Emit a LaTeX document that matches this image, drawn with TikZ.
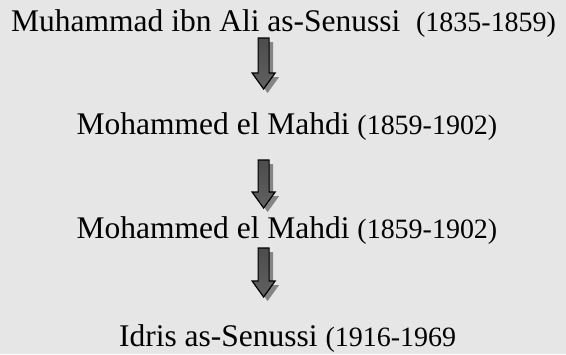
\documentclass[tikz,border=0pt]{standalone}
\usepackage{fontspec}
\setmainfont{Liberation Serif}
\usepackage{xcolor}
\usepackage{tikz}
\usetikzlibrary{calc}

\definecolor{pagebg}{RGB}{230,230,230}
\newcommand{\namefont}{\fontsize{22.4}{26}\selectfont}
\newcommand{\yearfont}{\fontsize{19.9}{24}\selectfont}
% down block arrow from #1 (top) to #2 (tip), offset #3
\newcommand{\blockpath}[3]{($(#1)+(#3)+(-0.1375,0)$) -- ($(#1)+(#3)+(0.1375,0)$)
  -- ($(#2)+(#3)+(0.1375,0.4)$) -- ($(#2)+(#3)+(0.2875,0.4)$) -- ($(#2)+(#3)$)
  -- ($(#2)+(#3)+(-0.2875,0.4)$) -- ($(#2)+(#3)+(-0.1375,0.4)$) -- cycle}

\begin{document}
\begin{tikzpicture}[
    every node/.style={inner sep=0pt, anchor=base},
    arrbody/.style={draw=black, line width=0.85pt, line join=miter,
      top color=black!70, middle color=black, bottom color=black!62},
    arrshadow/.style={fill=black!48}]
  \fill[pagebg] (0,0) rectangle (14.15,-8.85);
  \useasboundingbox (0,0) rectangle (14.15,-8.85);
  % Names and years
  \node (gen1) at (7.09,-0.775) {\namefont Muhammad ibn Ali as-Senussi \ \yearfont(1835-1859)};
  \node (gen2) at (7.175,-3.35) {\namefont Mohammed el Mahdi \yearfont(1859-1902)};
  \node (gen3) at (7.175,-5.95) {\namefont Mohammed el Mahdi \yearfont(1859-1902)};
  \node (gen4) at (7.19,-8.65) {\namefont Idris as-Senussi \yearfont(1916-1969};
  % Arrow ends
  \coordinate (a1s) at (6.59,-0.95);  \coordinate (a1e) at (6.59,-2.225);
  \coordinate (a2s) at (6.59,-4.0);   \coordinate (a2e) at (6.59,-5.2);
  \coordinate (a3s) at (6.59,-6.2);   \coordinate (a3e) at (6.59,-7.425);
  \foreach \s/\e in {a1s/a1e, a2s/a2e, a3s/a3e}{
    \fill[arrshadow] \blockpath{\s}{\e}{0.1,-0.1};
    \path[arrbody] \blockpath{\s}{\e}{0,0};
  }
\end{tikzpicture}
\end{document}
